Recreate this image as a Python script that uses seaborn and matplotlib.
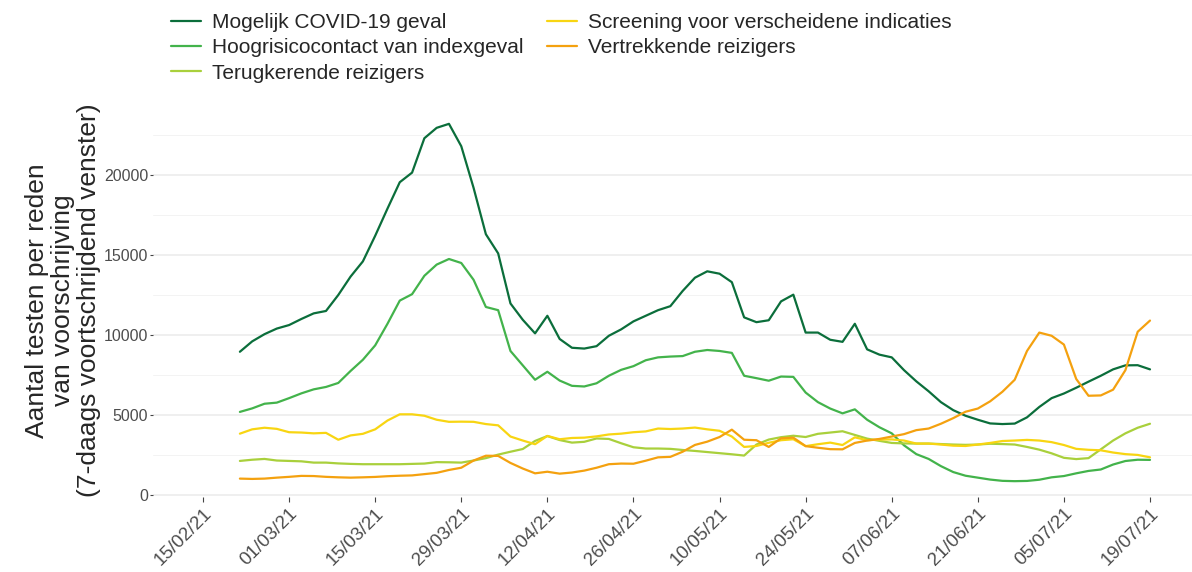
import pandas as pd
import numpy as np
import matplotlib
matplotlib.use("Agg")
import matplotlib.pyplot as plt
import matplotlib.dates as mdates
import seaborn as sns

# data: one value every 2 days, 21/02/21 -> 19/07/21
dates = pd.date_range("2021-02-21", "2021-07-19", freq="2D")

mogelijk = [8950, 9600, 10050, 10400, 10620, 11000, 11350, 11500, 12500, 13650,
            14600, 16200, 17900, 19550, 20150, 22300, 22950, 23200, 21800, 19200,
            16300, 15100, 11970, 10950, 10100, 11200, 9750, 9200, 9150, 9300,
            9950, 10350, 10850, 11200, 11550, 11800, 12750, 13580, 13980, 13830,
            13300, 11100, 10800, 10920, 12100, 12520, 10150, 10150, 9700, 9570,
            10700, 9100, 8770, 8600, 7800, 7100, 6480, 5800, 5300, 4950,
            4700, 4470, 4430, 4460, 4850, 5500, 6050, 6340, 6700, 7080,
            7450, 7850, 8100, 8110, 7850]
hoogrisico = [5190, 5410, 5700, 5770, 6050, 6350, 6600, 6750, 7000, 7750,
              8450, 9350, 10700, 12150, 12550, 13700, 14400, 14750, 14500, 13450,
              11750, 11550, 9000, 8100, 7200, 7700, 7150, 6820, 6780, 6980,
              7450, 7820, 8050, 8420, 8600, 8650, 8680, 8950, 9060, 9000,
              8880, 7450, 7300, 7140, 7400, 7380, 6400, 5800, 5400, 5100,
              5350, 4700, 4230, 3850, 3100, 2550, 2250, 1800, 1430, 1200,
              1080, 960, 880, 860, 875, 950, 1100, 1180, 1350, 1500,
              1590, 1900, 2120, 2200, 2190]
terugkerend = [2125, 2200, 2250, 2150, 2125, 2100, 2020, 2020, 1970, 1940,
               1920, 1920, 1920, 1920, 1940, 1960, 2050, 2040, 2020, 2150,
               2300, 2520, 2700, 2870, 3375, 3680, 3430, 3270, 3320, 3530,
               3500, 3230, 2980, 2900, 2900, 2880, 2810, 2750, 2680, 2610,
               2540, 2460, 3150, 3460, 3610, 3700, 3620, 3820, 3900, 3980,
               3750, 3520, 3380, 3250, 3220, 3210, 3210, 3180, 3150, 3130,
               3150, 3200, 3180, 3150, 3000, 2830, 2600, 2320, 2240, 2300,
               2850, 3400, 3850, 4200, 4450]
screening = [3830, 4100, 4200, 4130, 3920, 3900, 3850, 3880, 3450, 3720,
             3820, 4100, 4650, 5040, 5040, 4950, 4700, 4570, 4580, 4570,
             4430, 4350, 3650, 3400, 3170, 3690, 3480, 3560, 3580, 3660,
             3780, 3830, 3920, 3970, 4150, 4120, 4150, 4210, 4100, 4010,
             3650, 3000, 3060, 3260, 3420, 3480, 3050, 3170, 3270, 3120,
             3600, 3420, 3460, 3470, 3400, 3210, 3210, 3150, 3080, 3060,
             3150, 3250, 3370, 3400, 3440, 3400, 3300, 3120, 2880, 2820,
             2790, 2650, 2550, 2500, 2350]
vertrekkend = [1020, 1000, 1020, 1080, 1130, 1190, 1180, 1130, 1100, 1080,
               1100, 1125, 1170, 1200, 1220, 1300, 1380, 1560, 1700, 2150,
               2450, 2440, 2000, 1650, 1350, 1450, 1330, 1400, 1520, 1700,
               1920, 1960, 1950, 2140, 2350, 2380, 2700, 3125, 3330, 3620,
               4080, 3450, 3420, 3000, 3540, 3580, 3050, 2950, 2860, 2850,
               3250, 3400, 3500, 3650, 3800, 4050, 4150, 4450, 4800, 5200,
               5400, 5850, 6450, 7200, 9000, 10150, 9950, 9400, 7250, 6200,
               6220, 6580, 7800, 10200, 10900]

reasons = ["Mogelijk COVID-19 geval", "Hoogrisicocontact van indexgeval",
           "Terugkerende reizigers", "Screening voor verscheidene indicaties",
           "Vertrekkende reizigers"]
colors = ["#0b6e3b", "#43b34b", "#a9d03c", "#f8d512", "#f4a10f"]

df = pd.concat([
    pd.DataFrame({"datum": dates, "aantal": vals, "reden": r})
    for r, vals in zip(reasons, [mogelijk, hoogrisico, terugkerend, screening, vertrekkend])
])

sns.set_theme(style="white")
plt.rcParams["font.family"] = ["Liberation Sans", "DejaVu Sans"]

fig = plt.figure(figsize=(11.92, 5.72), dpi=100)
ax = fig.add_axes([153 / 1192, 1 - 497 / 572, 1 - 153 / 1192, (497 - 104) / 572])

sns.lineplot(data=df, x="datum", y="aantal", hue="reden", hue_order=reasons,
             palette=dict(zip(reasons, colors)), linewidth=1.6, ax=ax)

ax.set_xlim(pd.Timestamp("2021-02-15") - pd.Timedelta(days=8.13),
            pd.Timestamp("2021-07-19") + pd.Timedelta(days=6.83))
ax.set_ylim(-130, 24440)

ax.set_xticks(pd.date_range("2021-02-15", "2021-07-19", freq="14D"))
ax.xaxis.set_major_formatter(mdates.DateFormatter("%d/%m/%y"))
ax.set_yticks([0, 5000, 10000, 15000, 20000])
ax.set_yticks([2500, 7500, 12500, 17500, 22500], minor=True)

ax.grid(axis="y", which="major", color="#ebebeb", linewidth=1.1)
ax.grid(axis="y", which="minor", color="#f3f3f3", linewidth=0.7)
ax.grid(axis="x", visible=False)
for s in ax.spines.values():
    s.set_visible(False)

ax.tick_params(axis="x", which="major", bottom=True, length=3.5, width=0.8,
               color="#444444", labelsize=13.5, labelcolor="#4d4d4d", pad=2)
ax.tick_params(axis="y", which="major", left=True, length=2.5, width=0.8,
               color="#444444", labelsize=11.5, labelcolor="#4d4d4d", pad=1)
ax.tick_params(axis="y", which="minor", left=False)
for lab in ax.get_xticklabels():
    lab.set_rotation(45)
    lab.set_ha("right")
    lab.set_va("top")
    lab.set_rotation_mode("anchor")

ax.set_xlabel("")
ax.set_ylabel("Aantal testen per reden\nvan voorschrijving\n(7-daags voortschrijdend venster)",
              fontsize=19, linespacing=1.1, labelpad=2)

handles, labels = ax.get_legend_handles_labels()
ax.get_legend().remove()
fig.legend(handles, labels, loc="upper left", bbox_to_anchor=(0.1275, 1.01),
           ncol=2, frameon=False, fontsize=15, handlelength=1.45,
           handletextpad=0.55, labelspacing=0.3, columnspacing=1.1)

fig.savefig("out.png", dpi=100)
